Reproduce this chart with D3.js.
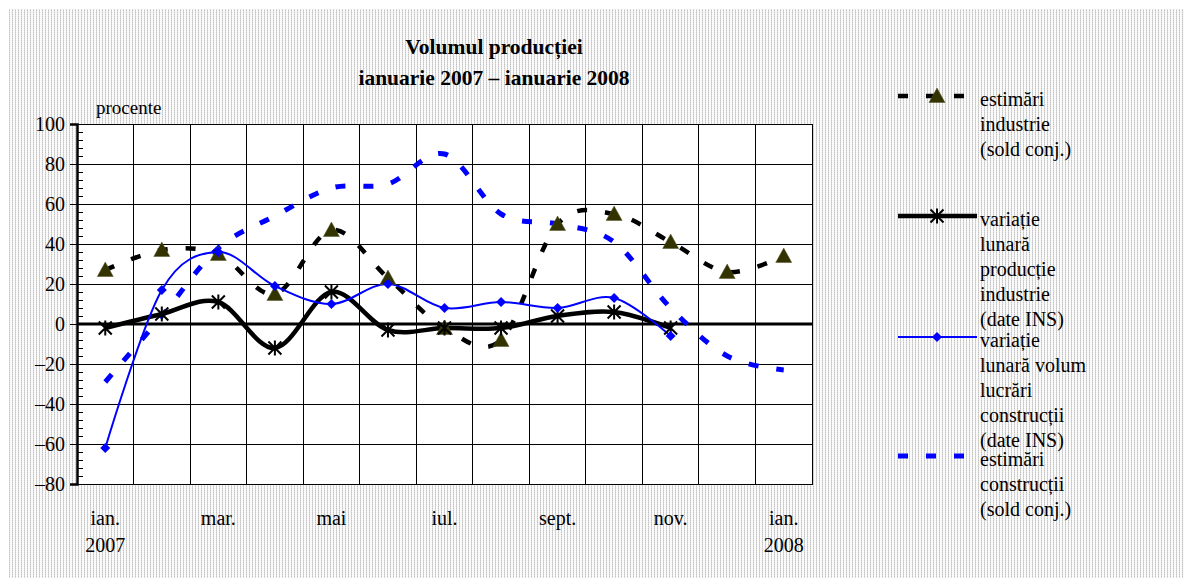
<!DOCTYPE html>
<html>
<head>
<meta charset="utf-8">
<script src="https://cdn.jsdelivr.net/npm/d3@7"></script>
<style>
  html, body { margin: 0; padding: 0; background: #fff; }
  svg { display: block; }
  text { font-family: "Liberation Serif", "Times New Roman", serif; fill: #000; }
</style>
</head>
<body>
<svg id="chart" width="1184" height="578"></svg>
<script>
// ---------- data ----------
const months = ["ian.|2007", "feb.", "mar.", "apr.", "mai", "iun.", "iul.", "aug.", "sept.", "oct.", "nov.", "dec.", "ian.|2008"];
const monthLabels = ["ian.|2007", "mar.", "mai", "iul.", "sept.", "nov.", "ian.|2008"];
const yTicks = [-80, -60, -40, -20, 0, 20, 40, 60, 80, 100];

const estimariIndustrie   = [27, 37, 35, 15, 47, 23, -2, -8, 50, 55, 41, 26, 34];
const variatieIndustrie   = [-2, 5, 11, -12, 16, -3, -2, -2, 4, 6, -2, null, null];
const variatieConstructii = [-62, 17, 36, 19, 10, 20, 8, 11, 8, 13, -6, null, null];
const estimariConstructii = [-29, 4, 38, 54, 68, 70, 85, 55, 50, 41, 8, -16, -23];

const titleLines = ["Volumul producției", "ianuarie 2007 – ianuarie 2008"];
const yUnit = "procente";
const legendItems = [
  ["estimări", "industrie", "(sold conj.)"],
  ["variație", "lunară", "producție", "industrie", "(date INS)"],
  ["variație", "lunară volum", "lucrări", "construcții", "(date INS)"],
  ["estimări", "construcții", "(sold conj.)"]
];

// ---------- layout ----------
const svg = d3.select("#chart");
const L = 77, R = 812, T = 124, B = 484;

// background pattern
const defs = svg.append("defs");
const pat = defs.append("pattern").attr("id", "bgpat").attr("patternUnits", "userSpaceOnUse")
  .attr("width", 3).attr("height", 2);
pat.append("rect").attr("width", 3).attr("height", 2).attr("fill", "#fafafa");
pat.append("rect").attr("x", 0).attr("y", 0).attr("width", 1).attr("height", 1).attr("fill", "#c4c4c4");
pat.append("rect").attr("x", 0).attr("y", 1).attr("width", 1).attr("height", 1).attr("fill", "#dadada");

svg.append("rect").attr("x", 0).attr("y", 0).attr("width", 1184).attr("height", 578).attr("fill", "#fff");
svg.append("rect").attr("x", 9).attr("y", 9).attr("width", 1175).attr("height", 569).attr("fill", "url(#bgpat)");

const x = d3.scaleBand().domain(months).range([L, R]).padding(0);
const y = d3.scaleLinear().domain([-80, 100]).range([B, T]);
const cx = d => x(d) + x.bandwidth() / 2;

// plot area
svg.append("rect").attr("x", L).attr("y", T).attr("width", R - L).attr("height", B - T).attr("fill", "#fff");

// grid
const grid = svg.append("g").attr("shape-rendering", "crispEdges");
grid.selectAll(".hg").data(yTicks).join("line")
  .attr("x1", L).attr("x2", R).attr("y1", d => y(d)).attr("y2", d => y(d))
  .attr("stroke", "#000").attr("stroke-width", 1);
grid.selectAll(".vg").data(months.slice(1)).join("line")
  .attr("x1", d => x(d)).attr("x2", d => x(d)).attr("y1", T).attr("y2", B)
  .attr("stroke", "#000").attr("stroke-width", 1);
grid.append("rect").attr("x", L).attr("y", T).attr("width", R - L).attr("height", B - T)
  .attr("fill", "none").attr("stroke", "#000").attr("stroke-width", 1);

// zero line
svg.append("line").attr("x1", L).attr("x2", R).attr("y1", y(0)).attr("y2", y(0))
  .attr("stroke", "#000").attr("stroke-width", 3);

// y axis
const fmt = d => d < 0 ? "–" + Math.abs(d) : String(d);
const yAxis = svg.append("g").attr("transform", `translate(${L},0)`)
  .call(d3.axisLeft(y).tickValues(yTicks).tickSize(7).tickFormat(fmt));
yAxis.select(".domain").attr("stroke-width", 2.5);
yAxis.selectAll(".tick line").attr("stroke-width", 1).attr("shape-rendering", "crispEdges");
yAxis.selectAll(".tick text").attr("font-size", 20).attr("x", -12)
  .style("font-family", "'Liberation Serif', serif");

const minor = svg.append("g").attr("transform", `translate(${L},0)`)
  .call(d3.axisLeft(y).tickValues(d3.range(-80, 101, 4).filter(v => v % 20 !== 0))
    .tickSizeInner(-6).tickSizeOuter(0).tickFormat(""));
minor.select(".domain").remove();
minor.selectAll(".tick line").attr("stroke-width", 1).attr("shape-rendering", "crispEdges");

// x axis labels
const xAxis = svg.append("g").attr("transform", `translate(0,${B})`)
  .call(d3.axisBottom(x).tickValues(monthLabels).tickSize(0).tickFormat(""));
xAxis.select(".domain").remove();
xAxis.selectAll(".tick").each(function(d) {
  const parts = d.split("|");
  const t = d3.select(this).append("text").attr("text-anchor", "middle").attr("font-size", 20)
    .style("font-family", "'Liberation Serif', serif").attr("fill", "#000");
  parts.forEach((p, i) => t.append("tspan").attr("x", 0).attr("y", 41 + i * 27).text(p));
});

// unit
svg.append("text").attr("x", 96).attr("y", 114).attr("font-size", 19).text(yUnit);

// title
svg.selectAll(".title").data(titleLines).join("text")
  .attr("x", 494).attr("y", (d, i) => 54 + i * 31).attr("text-anchor", "middle")
  .attr("font-size", 21.5).attr("font-weight", "bold").text(d => d);

// ---------- series ----------
const mkLine = () => d3.line()
  .defined(d => d.v != null)
  .x(d => cx(d.m)).y(d => y(d.v))
  .curve(d3.curveCardinal.tension(0));
const toPts = arr => months.map((m, i) => ({ m, v: arr[i] }));

const styles = {
  estInd: { stroke: "#000", width: 4.5, dash: "10,18" },
  varInd: { stroke: "#000", width: 4.5, dash: null },
  varCon: { stroke: "#0000ff", width: 2, dash: null },
  estCon: { stroke: "#0000ff", width: 5, dash: "10,18" }
};

function drawLine(arr, st) {
  svg.append("path").datum(toPts(arr)).attr("d", mkLine())
    .attr("fill", "none").attr("stroke", st.stroke).attr("stroke-width", st.width)
    .attr("stroke-dasharray", st.dash);
}
drawLine(estimariConstructii, styles.estCon);
drawLine(estimariIndustrie, styles.estInd);
drawLine(variatieIndustrie, styles.varInd);
drawLine(variatieConstructii, styles.varCon);

// markers
const triPath = "M0,-8L8,6.5L-8,6.5Z";
const starPath = "M-6.5,-6.5L6.5,6.5M-6.5,6.5L6.5,-6.5M0,-7.5L0,7.5";
const diaPath = "M0,-5L5,0L0,5L-5,0Z";

function drawMarkers(arr, fn) {
  toPts(arr).filter(d => d.v != null).forEach(d => fn(svg.append("g").attr("transform", `translate(${cx(d.m)},${y(d.v)})`)));
}
const triMarker = g => g.append("path").attr("d", triPath).attr("fill", "#333300").attr("stroke", "#55552a").attr("stroke-width", 0.5);
const starMarker = g => g.append("path").attr("d", starPath).attr("fill", "none").attr("stroke", "#000").attr("stroke-width", 2);
const diaMarker = g => g.append("path").attr("d", diaPath).attr("fill", "#0000ff");

drawMarkers(estimariIndustrie, triMarker);
drawMarkers(variatieIndustrie, starMarker);
drawMarkers(variatieConstructii, diaMarker);

// ---------- legend ----------
const legendY = [96, 216, 337, 456];
const legendStyles = [styles.estInd, styles.varInd, styles.varCon, styles.estCon];
const legendMarkers = [triMarker, starMarker, diaMarker, null];
legendItems.forEach((lines, i) => {
  const ly = legendY[i];
  const st = legendStyles[i];
  svg.append("line").attr("x1", 898).attr("x2", 977).attr("y1", ly).attr("y2", ly)
    .attr("stroke", st.stroke).attr("stroke-width", st.width)
    .attr("stroke-dasharray", st.dash);
  if (legendMarkers[i]) legendMarkers[i](svg.append("g").attr("transform", `translate(937,${ly})`));
  const t = svg.append("text").attr("font-size", 20);
  lines.forEach((s, j) => t.append("tspan").attr("x", 980).attr("y", ly + 10 + j * 25).text(s));
});
</script>
</body>
</html>
